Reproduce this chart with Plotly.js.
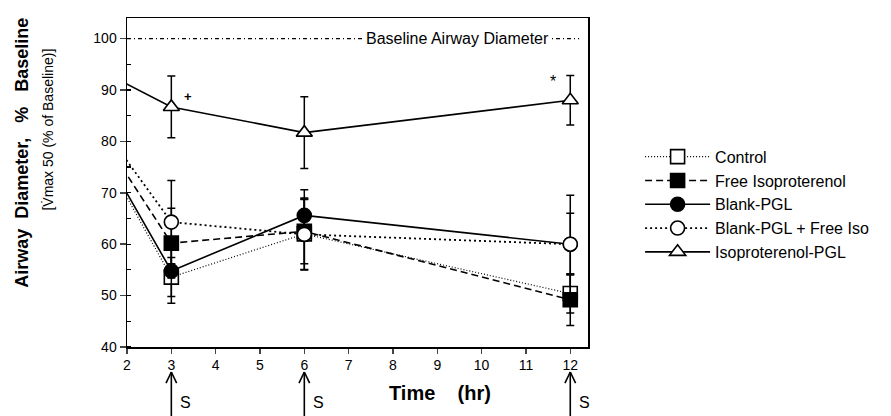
<!DOCTYPE html>
<html>
<head>
<meta charset="utf-8">
<script src="https://cdn.plot.ly/plotly-3.0.1.min.js"></script>
<style>html,body{margin:0;padding:0;background:#fff;}#chart{width:891px;height:416px;}</style>
</head>
<body>
<div id="chart"></div>
<script>
// Time points (hr); time 0 is the baseline (100%), axis starts at 2
const timeHr = [0, 3, 6, 12];

const seriesNames = ["Control", "Free Isoproterenol", "Blank-PGL", "Blank-PGL + Free Iso", "Isoproterenol-PGL"];

const controlVals   = [100, 53.6, 62.0, 50.4];
const controlErr    = [0, 3.8, 7.0, 3.8];

const freeIsoVals   = [100, 60.2, 62.5, 49.2];
const freeIsoErr    = [0, 6.8, 6.3, 5.0];

const blankPglVals  = [100, 54.8, 65.6, 60.0];
const blankPglErr   = [0, 6.3, 5.0, 6.0];

const blankFreeVals = [100, 64.3, 61.9, 60.0];
const blankFreeErr  = [0, 8.1, 6.8, 9.5];

const isoPglVals    = [100, 86.7, 81.7, 88.0];
const isoPglErr     = [0, 6.0, 7.0, 4.8];

const baselineValue = 100;
const baselineLabel = "Baseline Airway Diameter";
const xTicks = [2, 3, 4, 5, 6, 7, 8, 9, 10, 11, 12];
const yTicks = [40, 50, 60, 70, 80, 90, 100];
const dosingTimes = [3, 6, 12];

const FONT = "Liberation Sans, Arial, Helvetica, sans-serif";

function mk(name, y, err, dash, width, symbol, fill, group) {
  return {
    type: "scatter", mode: "lines+markers", name: name, x: timeHr, y: y,
    legendgroup: group,
    line: {color: "black", width: width, dash: dash},
    marker: {symbol: symbol, size: 14, color: fill, line: {color: "black", width: 1.6}},
    error_y: {type: "data", array: err, visible: true, color: "black", thickness: 1.5, width: 4},
    cliponaxis: true
  };
}

const traces = [
  mk(seriesNames[0], controlVals, controlErr, "1px,2px", 1.2, "square", "white", "a"),
  mk(seriesNames[1], freeIsoVals, freeIsoErr, "7px,4px", 1.6, "square", "black", "b"),
  mk(seriesNames[2], blankPglVals, blankPglErr, "solid", 1.6, "circle", "black", "c"),
  mk(seriesNames[3], blankFreeVals, blankFreeErr, "2px,3px", 1.8, "circle", "white", "d"),
  mk(seriesNames[4], isoPglVals, isoPglErr, "solid", 1.6, "triangle-up", "white", "e")
];

const annotations = [
  {xref: "x", yref: "y", x: 9.45, y: baselineValue, text: baselineLabel, showarrow: false,
   bgcolor: "white", font: {family: FONT, size: 16, color: "black"}, borderpad: 1},
  {xref: "x", yref: "y", x: 3.37, y: 88.7, text: "<b>+</b>", showarrow: false, font: {family: FONT, size: 13, color: "#000000"}},
  {xref: "x", yref: "y", x: 11.6, y: 91.7, text: "*", showarrow: false, font: {family: FONT, size: 16, color: "black"}},
  {xref: "paper", yref: "paper", x: 0.679, y: -0.14, text: "<b>Time    (hr)</b>", showarrow: false,
   xanchor: "center", yanchor: "middle", font: {family: FONT, size: 20, color: "black"}},
  {xref: "paper", yref: "paper", x: -0.228, y: 0.59, textangle: -90, showarrow: false,
   text: "<b>Airway  Diameter,   %   Baseline</b>", xanchor: "center", yanchor: "middle",
   font: {family: FONT, size: 18, color: "black"}},
  {xref: "paper", yref: "paper", x: -0.172, y: 0.66, textangle: -90, showarrow: false,
   text: "[V\u0307max 50 (% of Baseline)]", xanchor: "center", yanchor: "middle",
   font: {family: FONT, size: 14, color: "black"}}
];
const shapes = [{type: "line", xref: "x", yref: "y", x0: 2, x1: 12.2, y0: baselineValue, y1: baselineValue,
            line: {color: "black", width: 1.2, dash: "4px,3px,1px,3px"}, layer: "below"}];
dosingTimes.forEach(t => {
  annotations.push({xref: "x", yref: "paper", x: t, y: -0.17, xshift: 7, text: "S", showarrow: false,
    xanchor: "left", yanchor: "middle", font: {family: FONT, size: 16, color: "black"}});
  shapes.push({type: "line", xref: "x", yref: "paper", x0: t, x1: t, y0: -0.076, y1: -0.22,
    line: {color: "black", width: 1.6}});
  shapes.push({type: "line", xref: "x", yref: "paper", x0: t - 0.12, x1: t, y0: -0.11, y1: -0.076,
    line: {color: "black", width: 1.6}});
  shapes.push({type: "line", xref: "x", yref: "paper", x0: t + 0.12, x1: t, y0: -0.11, y1: -0.076,
    line: {color: "black", width: 1.6}});
});

const layout = {
  width: 891, height: 416,
  margin: {l: 127, r: 303, t: 18, b: 69},
  paper_bgcolor: "white", plot_bgcolor: "white",
  font: {family: FONT, size: 14, color: "black"},
  showlegend: true,
  legend: {x: 1.113, y: 0.63, xanchor: "left", yanchor: "top", traceorder: "grouped",
           tracegroupgap: 0, itemwidth: 65, font: {family: FONT, size: 16, color: "black"},
           bgcolor: "rgba(0,0,0,0)"},
  xaxis: {range: [2, 12.4], tickvals: xTicks, ticks: "outside", ticklen: 5, tickwidth: 1.5,
          showline: true, linecolor: "black", linewidth: 1.5, mirror: true, showgrid: false,
          zeroline: false, tickfont: {family: FONT, size: 14, color: "black"}},
  yaxis: {range: [40, 104], tickvals: yTicks, ticks: "outside", ticklen: 6, tickwidth: 1.5,
          showline: true, linecolor: "black", linewidth: 1.5, mirror: true, showgrid: false,
          zeroline: false, tickfont: {family: FONT, size: 14, color: "black"},
          minor: {dtick: 5, ticks: "inside", ticklen: 4, tickwidth: 1.2, tickcolor: "black", showgrid: false}},
  shapes: shapes,
  annotations: annotations
};

Plotly.newPlot("chart", traces, layout, {displayModeBar: false, staticPlot: true});
</script>
</body>
</html>
